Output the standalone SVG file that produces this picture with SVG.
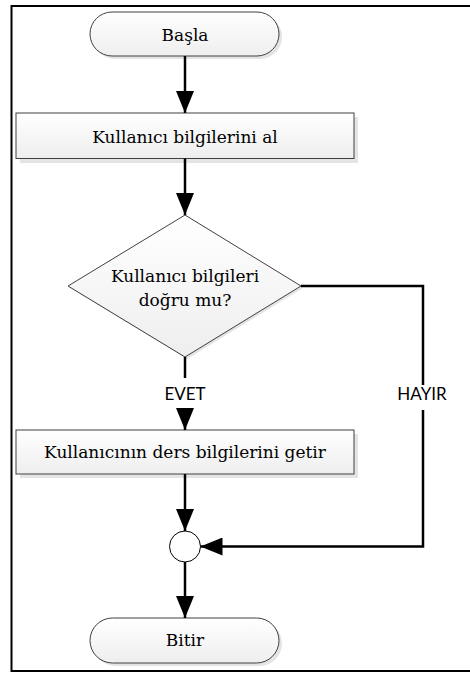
<svg xmlns="http://www.w3.org/2000/svg" width="470" height="673" viewBox="0 0 470 673">
<defs>
<linearGradient id="g" x1="0" y1="0" x2="0" y2="1">
<stop offset="0" stop-color="#ffffff"/>
<stop offset="1" stop-color="#eeeeee"/>
</linearGradient>
<marker id="ah" markerWidth="22" markerHeight="18" refX="22" refY="9" orient="auto" markerUnits="userSpaceOnUse">
<path d="M0,0 L22,9 L0,18 Z" fill="#000"/>
</marker>
<style>
.node{fill:url(#g);stroke:#404040;stroke-width:1}
.shadow{fill:#e4e4e4;stroke:none}
.c{fill:none;stroke:#000;stroke-width:2.5}
.t{font-family:'DejaVu Serif',serif;font-size:17px;fill:#000;text-anchor:middle}
.lbl{font-family:Lato,'Liberation Sans',sans-serif;font-size:17px;fill:#000;text-anchor:middle}
</style>
</defs>
<rect x="11.5" y="6" width="470" height="665" fill="#fff" stroke="#000" stroke-width="2"/>
<g id="start">
<rect class="shadow" x="93" y="15" width="189" height="44" rx="22"/>
<rect class="node" x="90" y="12" width="189" height="44" rx="22"/>
<text class="t" x="185" y="40.5">Başla</text>
</g>
<g id="step1">
<rect class="shadow" x="20" y="117" width="338" height="46"/>
<rect class="node" x="16" y="113" width="338" height="45.5"/>
<text class="t" x="185" y="142.5">Kullanıcı bilgilerini al</text>
</g>
<g id="decision">
<polygon class="shadow" points="187,218 303,288 187,359 70,288"/>
<polygon class="node" points="185,215 301,286 185,357 68,286"/>
<text class="t" x="185" y="281.5">Kullanıcı bilgileri</text>
<text class="t" x="185" y="306">doğru mu?</text>
</g>
<g id="step2">
<rect class="shadow" x="20" y="434" width="338" height="44"/>
<rect class="node" x="16" y="430" width="338" height="44"/>
<text class="t" x="185" y="458">Kullanıcının ders bilgilerini getir</text>
</g>
<g id="merge">
<circle cx="185" cy="546.5" r="15.5" fill="#fff" stroke="#000" stroke-width="1"/>
</g>
<g id="end">
<rect class="shadow" x="93" y="621" width="189" height="45" rx="22.5"/>
<rect class="node" x="90" y="618" width="189" height="45" rx="22.5"/>
<text class="t" x="185" y="646">Bitir</text>
</g>
<g id="connectors">
<line class="c" x1="185" y1="56" x2="185" y2="113" marker-end="url(#ah)"/>
<line class="c" x1="185" y1="158.5" x2="185" y2="215" marker-end="url(#ah)"/>
<line class="c" x1="185" y1="357" x2="185" y2="378"/>
<line class="c" x1="185" y1="408" x2="185" y2="430" marker-end="url(#ah)"/>
<polyline class="c" points="301,286 423,286 423,385"/>
<polyline class="c" points="423,410 423,546.5 200.5,546.5" marker-end="url(#ah)"/>
<line class="c" x1="185" y1="474" x2="185" y2="531" marker-end="url(#ah)"/>
<line class="c" x1="185" y1="562" x2="185" y2="618" marker-end="url(#ah)"/>
<text class="lbl" x="185" y="400">EVET</text>
<text class="lbl" x="422" y="400">HAYIR</text>
</g>
</svg>
